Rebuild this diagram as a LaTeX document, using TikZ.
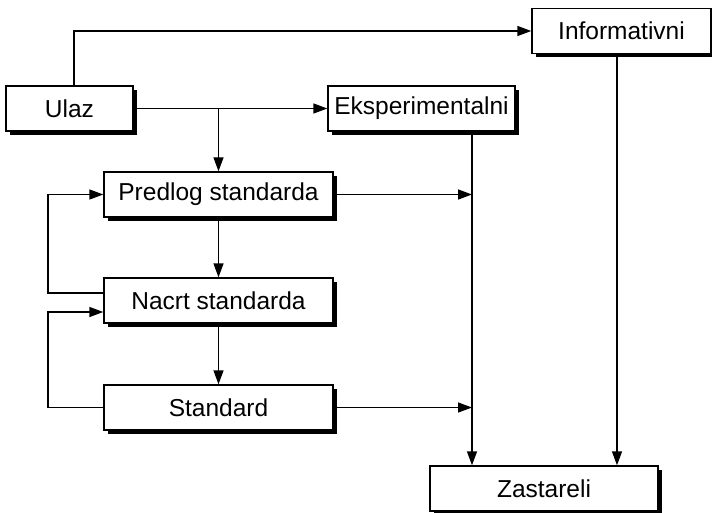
\documentclass[tikz,border=0pt]{standalone}
\usepackage{fontspec}
\setmainfont{Liberation Sans}
\usetikzlibrary{arrows.meta, shadows}
\tikzstyle{stage} = [draw, line width=1.4pt, fill=white, inner sep=0pt, minimum height=45pt,
                     drop shadow={shadow xshift=4pt, shadow yshift=-4pt, fill=black, opacity=1}]
\tikzstyle{arrow} = [line width=1.4pt, -{Triangle[length=14pt, width=10pt]}]

\begin{document}
\begin{tikzpicture}[x=1pt, y=-1pt, font=\fontsize{24.5}{28}\selectfont]
    \useasboundingbox (0,0) rectangle (712,513);

    % Stages of a standard
    \node[stage, minimum width=127pt] (ulaz)     at ( 69.5,108.5) {Ulaz};
    \node[stage, minimum width=187pt] (eksp)     at (421.5,108.5) {Eksperimentalni};
    \node[stage, minimum width=179pt] (inform)   at (621.5, 31.0) {Informativni};
    \node[stage, minimum width=229pt] (predlog)  at (218.5,194.5) {Predlog standarda};
    \node[stage, minimum width=229pt] (nacrt)    at (218.5,300.5) {Nacrt standarda};
    \node[stage, minimum width=229pt] (standard) at (218.5,407.5) {Standard};
    \node[stage, minimum width=228pt] (zast)     at (544.0,488.5) {Zastareli};

    % Columns of the collecting lines
    \coordinate (colE) at (472,0);
    \coordinate (colI) at (617,0);
    \coordinate (colL) at (48,0);

    % Entry paths
    \draw[arrow] ([xshift=4.5pt]ulaz.north) |- (inform.west);
    \draw[arrow] (ulaz.east) -- (eksp.west);
    \draw[arrow] (ulaz.east -| predlog.north) -- (predlog.north);

    % Main chain
    \draw[arrow] (predlog.south) -- (nacrt.north);
    \draw[arrow] (nacrt.south) -- (standard.north);

    % Feedback loops
    \draw[arrow] ([yshift=7.5pt]nacrt.west) -- ([yshift=7.5pt]nacrt.west -| colL)
                 |- (predlog.west);
    \draw[arrow] (standard.west) -- (standard.west -| colL)
                 |- ([yshift=-11.5pt]nacrt.west);

    % Paths to obsolete
    \draw[arrow] (predlog.east) -- (predlog.east -| colE);
    \draw[arrow] (standard.east) -- (standard.east -| colE);
    \draw[arrow] (eksp.south -| colE) -- (zast.north -| colE);
    \draw[arrow] (inform.south -| colI) -- (zast.north -| colI);
\end{tikzpicture}
\end{document}
